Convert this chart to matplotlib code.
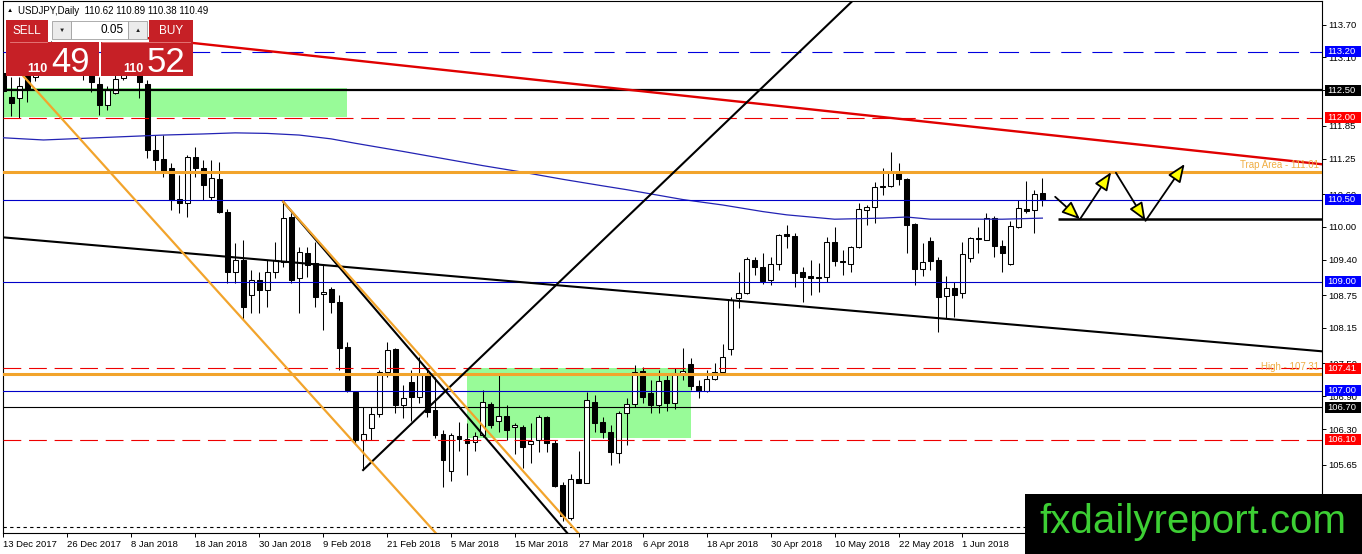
import numpy as np
import matplotlib.pyplot as plt
from matplotlib.patches import Rectangle, FancyArrowPatch

plt.rcParams['font.family'] = ['Liberation Sans', 'DejaVu Sans']

# daily candles USDJPY, 13 Dec 2017 ... (bar index = position)
opens = [112.82, 112.38, 112.36, 112.78, 112.75, 112.95, 113.20, 113.15, 113.30, 113.20,
         113.05, 112.80, 112.62, 112.23, 112.45, 112.72, 113.00, 113.10, 112.62, 111.41,
         111.24, 111.08, 110.51, 110.44, 111.28, 111.08, 110.55, 110.88, 110.27, 109.17,
         109.39, 108.75, 109.02, 108.84, 109.18, 109.36, 110.18, 109.07, 109.52, 109.34,
         108.77, 108.86, 108.63, 107.80, 106.98, 106.10, 106.32, 106.58, 107.34, 107.76,
         106.74, 107.16, 106.89, 107.29, 106.65, 106.21, 105.53, 106.17, 106.12, 106.06,
         106.19, 106.76, 106.45, 106.54, 106.34, 106.34, 106.03, 106.10, 106.52, 106.04,
         105.28, 104.68, 105.39, 105.31, 106.80, 106.43, 106.25, 105.86, 106.59, 106.76,
         107.36, 106.96, 106.74, 107.20, 106.78, 107.31, 107.49, 107.09, 107.00, 107.22,
         107.34, 107.76, 108.70, 108.79, 109.39, 109.27, 109.03, 109.32, 109.87, 109.83,
         109.17, 109.10, 109.08, 109.08, 109.72, 109.37, 109.32, 109.63, 110.31, 110.36,
         110.75, 110.75, 110.99, 110.88, 110.05, 109.23, 109.74, 109.39, 108.74, 108.88,
         108.79, 109.43, 109.80, 109.76, 110.16, 109.65, 109.32, 109.99, 110.33, 110.31,
         110.62]
highs = [113.05, 112.75, 112.75, 112.92, 113.05, 113.30, 113.40, 113.35, 113.38, 113.35,
         113.15, 112.90, 112.75, 112.58, 112.85, 113.05, 113.25, 113.20, 112.69, 111.68,
         111.68, 111.17, 110.95, 111.32, 111.46, 111.22, 111.22, 111.19, 110.33, 109.70,
         109.76, 109.21, 109.17, 109.39, 109.72, 110.46, 110.25, 109.63, 109.63, 109.72,
         109.30, 108.90, 108.75, 107.89, 106.98, 106.70, 106.70, 107.38, 107.89, 107.78,
         107.11, 107.38, 107.62, 107.42, 107.25, 106.28, 106.23, 106.43, 106.41, 106.25,
         107.02, 106.80, 107.29, 106.74, 106.41, 106.37, 106.41, 106.56, 106.54, 106.10,
         105.33, 105.48, 105.90, 106.98, 106.92, 106.52, 106.37, 106.63, 106.87, 107.47,
         107.44, 107.20, 107.38, 107.33, 107.42, 107.78, 107.60, 107.20, 107.38, 107.51,
         107.86, 108.72, 109.17, 109.45, 109.45, 109.52, 109.45, 109.87, 110.03, 109.89,
         109.26, 109.39, 109.34, 109.82, 110.00, 109.58, 109.65, 110.44, 110.40, 110.82,
         111.08, 111.37, 111.17, 110.90, 110.07, 109.70, 109.82, 109.45, 109.10, 108.99,
         109.72, 109.82, 110.00, 110.26, 110.20, 109.76, 110.11, 110.49, 110.84, 110.67,
         110.89]
lows = [112.45, 112.03, 112.00, 112.28, 112.67, 112.90, 113.00, 113.05, 113.10, 112.95,
        112.69, 112.47, 112.05, 112.14, 112.44, 112.68, 112.90, 112.36, 111.26, 111.04,
        110.91, 110.31, 110.26, 110.18, 110.91, 110.49, 110.49, 110.26, 108.97, 108.97,
        108.30, 108.43, 108.43, 108.53, 109.06, 109.26, 108.97, 108.43, 109.08, 108.53,
        108.11, 108.43, 107.38, 106.98, 106.05, 105.55, 106.10, 106.52, 107.25, 106.60,
        106.50, 106.45, 106.78, 106.52, 106.14, 105.24, 105.35, 105.90, 105.46, 105.90,
        106.15, 106.32, 106.25, 106.10, 105.84, 105.59, 105.68, 105.88, 105.88, 105.24,
        104.62, 104.64, 105.31, 105.31, 106.25, 106.14, 105.64, 105.68, 106.00, 106.70,
        106.78, 106.60, 106.60, 106.63, 106.67, 107.20, 107.02, 106.87, 106.98, 107.20,
        107.34, 107.65, 108.52, 108.77, 109.12, 108.95, 108.94, 109.21, 109.61, 108.90,
        108.63, 108.75, 108.81, 108.99, 109.28, 109.12, 109.17, 109.61, 110.04, 110.07,
        110.58, 110.73, 110.77, 109.52, 108.94, 109.10, 109.21, 108.08, 108.34, 108.35,
        108.70, 109.36, 109.52, 109.76, 109.45, 109.17, 109.30, 109.98, 110.26, 109.89,
        110.38]
closes = [112.48, 112.27, 112.58, 112.52, 112.95, 113.20, 113.15, 113.30, 113.20, 113.05,
          112.80, 112.65, 112.23, 112.50, 112.71, 113.00, 113.10, 112.65, 111.41, 111.22,
          111.02, 110.49, 110.44, 111.28, 111.08, 110.77, 110.89, 110.27, 109.17, 109.39,
          108.53, 109.02, 108.84, 109.17, 109.39, 110.16, 109.03, 109.54, 109.30, 108.72,
          108.80, 108.63, 107.79, 107.02, 106.10, 106.21, 106.58, 107.34, 107.75, 106.74,
          106.87, 106.89, 107.29, 106.61, 106.19, 105.73, 106.19, 106.12, 106.05, 106.17,
          106.80, 106.38, 106.54, 106.28, 106.38, 105.97, 106.08, 106.52, 106.04, 105.26,
          104.70, 105.39, 105.32, 106.83, 106.41, 106.25, 105.88, 106.59, 106.76, 107.34,
          106.89, 106.74, 107.18, 106.78, 107.33, 107.36, 107.09, 107.00, 107.22, 107.35,
          107.62, 108.66, 108.79, 109.41, 109.27, 109.01, 109.32, 109.85, 109.83, 109.15,
          109.08, 109.06, 109.06, 109.72, 109.37, 109.35, 109.63, 110.33, 110.36, 110.73,
          110.73, 111.00, 110.88, 110.03, 109.23, 109.36, 109.37, 108.72, 108.88, 108.76,
          109.50, 109.80, 109.77, 110.16, 109.65, 109.52, 110.02, 110.35, 110.29, 110.60,
          110.49]

# moving average
ma_bars = [0, 5, 10, 15, 20, 25, 29, 33, 37, 41, 44, 50, 55, 60, 65, 70, 75, 78, 85,
           90, 95, 98, 101, 104, 110, 113, 116, 120, 125, 130]
ma_vals = [111.63, 111.59, 111.62, 111.65, 111.68, 111.70, 111.72, 111.71, 111.68, 111.61,
           111.53, 111.38, 111.25, 111.12, 111.00, 110.87, 110.75, 110.68, 110.50,
           110.40, 110.28, 110.22, 110.18, 110.14, 110.16, 110.18, 110.14, 110.14, 110.14,
           110.16]

xtick_bars = [0, 8, 16, 24, 32, 40, 48, 56, 64, 72, 80, 88, 96, 104, 112, 120]
xtick_labels = ['13 Dec 2017', '26 Dec 2017', '8 Jan 2018', '18 Jan 2018', '30 Jan 2018',
                '9 Feb 2018', '21 Feb 2018', '5 Mar 2018', '15 Mar 2018', '27 Mar 2018',
                '6 Apr 2018', '18 Apr 2018', '30 Apr 2018', '10 May 2018', '22 May 2018',
                '1 Jun 2018']
ytick_vals = [113.70, 113.10, 112.50, 111.85, 111.25, 110.60, 110.00, 109.40, 108.75,
              108.15, 107.50, 106.90, 106.30, 105.65, 105.05]

# horizontal levels
blue_dashed = [113.20]
blue_solid = [110.50, 109.00, 107.00]
red_dashed = [112.00, 107.41, 106.10]
black_thick = [112.50]
black_thin = [106.70]
orange_levels = [111.01, 107.31]
orange_texts = ['Trap Area - 111.01', 'High - 107.31']
dotted_level = 104.51
support_level = 110.14
support_start = 131.9

# green zones: bar from, bar to, price low, price high
zones_x0 = [-0.5, 58.0]
zones_x1 = [43.0, 86.0]
zones_lo = [112.01, 106.14]
zones_hi = [112.54, 107.42]

# trend lines (bar, price) -> (bar, price)
red_line = [(17, 113.47), (166, 111.13)]
black_lines = [[(-1, 109.82), (166, 107.71)],
               [(45, 105.55), (107, 114.24)],
               [(35, 110.46), (71, 104.32)]]
orange_lines = [[(35, 110.46), (73, 104.22)],
                [(1, 113.00), (55, 104.25)]]

# forecast arrows
arrows = [[(131.6, 110.55), (134.7, 110.14)],
          [(134.7, 110.14), (138.6, 111.00)],
          [(139.2, 110.99), (142.9, 110.11)],
          [(142.9, 110.11), (147.8, 111.15)]]

W, H = 1362, 554
fig = plt.figure(figsize=(W / 100, H / 100), dpi=100)
ax = fig.add_axes([3 / W, 21 / H, 1319 / W, 532 / H])
ax.set_xlim(-0.06, 164.99)
ax.set_ylim(104.398, 114.133)

for x0, x1, lo, hi in zip(zones_x0, zones_x1, zones_lo, zones_hi):
    ax.add_patch(Rectangle((x0, lo), x1 - x0, hi - lo, fc='#98FB98', ec='none', zorder=1))

o = np.array(opens); h = np.array(highs); l = np.array(lows); c = np.array(closes)
x = np.arange(len(o))
ax.vlines(x, l, h, color='black', lw=0.75, zorder=3)
body = np.maximum(np.abs(c - o), 0.012)
ax.bar(x, body, width=0.62, bottom=np.minimum(o, c), color=np.where(c >= o, 'white', 'black'),
       edgecolor='black', linewidth=0.75, zorder=4)

ax.plot(ma_bars, ma_vals, color='#2323B4', lw=0.9, zorder=5)

for p in blue_dashed:
    ax.axhline(p, color='#0000E0', lw=0.8, ls=(0, (18, 10)), zorder=5)
for p in blue_solid:
    ax.axhline(p, color='#0000C8', lw=0.8, zorder=5)
for p in red_dashed:
    ax.axhline(p, color='#EE0000', lw=0.8, ls=(0, (16, 7)), zorder=5)
for p in black_thick:
    ax.axhline(p, color='black', lw=1.6, zorder=5)
for p in black_thin:
    ax.axhline(p, color='black', lw=0.8, zorder=5)
ax.axhline(dotted_level, color='black', lw=0.8, ls=(0, (3, 3)), zorder=5)
ax.hlines(support_level, support_start, 170, color='black', lw=1.8, zorder=6)
for p, t in zip(orange_levels, orange_texts):
    ax.axhline(p, color='#F2A42C', lw=2.2, zorder=5)
    ax.annotate(t, xy=(1, p), xycoords=('axes fraction', 'data'), xytext=(-2, 1.5),
                textcoords='offset points', ha='right', va='bottom', fontsize=7,
                color='#F0AE45', zorder=7)

(a, b) = red_line
ax.plot([a[0], b[0]], [a[1], b[1]], color='#E00000', lw=1.7, zorder=6)
for (a, b) in black_lines:
    ax.plot([a[0], b[0]], [a[1], b[1]], color='black', lw=1.5, zorder=6)
for (a, b) in orange_lines:
    ax.plot([a[0], b[0]], [a[1], b[1]], color='#F2A42C', lw=1.6, zorder=6)

for (a, b) in arrows:
    ax.add_patch(FancyArrowPatch(a, b, arrowstyle='-|>,head_length=1.1,head_width=0.45',
                                 mutation_scale=10, fc='#FFFF00', ec='black', lw=1.3,
                                 shrinkA=0, shrinkB=0, zorder=8))

ax.yaxis.tick_right()
ax.set_yticks(ytick_vals)
ax.set_yticklabels([f'{v:.2f}' for v in ytick_vals])
ax.tick_params(axis='y', direction='out', length=3, width=0.7, pad=1.5, labelsize=6.8)
ax.set_xticks(xtick_bars)
ax.set_xticklabels(xtick_labels, ha='left')
ax.tick_params(axis='x', direction='out', length=3, width=0.7, pad=2, labelsize=6.8)
for s in ax.spines.values():
    s.set_color('black')
    s.set_linewidth(0.8)

# price boxes on the right scale
box_prices = blue_dashed + black_thick + red_dashed[:1] + blue_solid[:2] + red_dashed[1:2] \
    + blue_solid[2:] + black_thin + red_dashed[2:]
box_colors = ['#0000FF', 'black', '#FF0000', '#0000FF', '#0000FF', '#FF0000',
              '#0000FF', 'black', '#FF0000']
tr = ax.get_yaxis_transform()
half = 5.5 / 54.65
for p, col in zip(box_prices, box_colors):
    ax.add_patch(Rectangle((1 + 3 / 1319, p - half), 36 / 1319, 2 * half, transform=tr,
                           fc=col, ec='none', clip_on=False, zorder=20))
    ax.text(1 + 5 / 1319, p, f'{p:.2f}', transform=tr, ha='left', va='center',
            color='white', fontsize=6.8, clip_on=False, zorder=21)

# overlay: trade panel, header and watermark
ov = fig.add_axes([0, 0, 1, 1], zorder=10)
ov.set_xlim(0, W)
ov.set_ylim(H, 0)
ov.axis('off')
ov.patch.set_alpha(0)

red = '#C62026'
ov.text(7, 10.5, '▲', fontsize=4.5, va='center', ha='left')
ov.text(18, 10.5, 'USDJPY,Daily  110.62 110.89 110.38 110.49', fontsize=7,
        va='center', ha='left')
ov.add_patch(Rectangle((6, 20), 42, 22, fc=red, ec='none'))
ov.add_patch(Rectangle((149, 20), 44, 22, fc=red, ec='none'))
ov.add_patch(Rectangle((6, 42), 93, 34, fc=red, ec='none'))
ov.add_patch(Rectangle((101, 42), 92, 34, fc=red, ec='none'))
ov.plot([10, 47], [42, 42], color='#E88080', lw=0.6)
ov.plot([102, 190], [42, 42], color='#E88080', lw=0.6)
ov.add_patch(Rectangle((52, 21), 19, 18, fc='#EBEBEB', ec='#A0A0A0', lw=0.6))
ov.add_patch(Rectangle((71, 21), 57, 18, fc='white', ec='#A0A0A0', lw=0.6))
ov.add_patch(Rectangle((128, 21), 19, 18, fc='#EBEBEB', ec='#A0A0A0', lw=0.6))
ov.text(61.5, 30, '▼', fontsize=4.5, ha='center', va='center', color='#222222')
ov.text(137.5, 30, '▲', fontsize=4.5, ha='center', va='center', color='#222222')
ov.text(124, 30, '0.05', fontsize=8.5, ha='right', va='center', color='black')
ov.text(27, 31, 'SELL', fontsize=8.5, ha='center', va='center', color='white')
ov.text(171, 31, 'BUY', fontsize=8.5, ha='center', va='center', color='white')
ov.text(48, 72, '110', fontsize=9, fontweight='bold', ha='right', va='baseline', color='white')
ov.text(51, 72, '49', fontsize=25, ha='left', va='baseline', color='white')
ov.text(143, 72, '110', fontsize=9, fontweight='bold', ha='right', va='baseline', color='white')
ov.text(147, 72, '52', fontsize=25, ha='left', va='baseline', color='white')

ov.add_patch(Rectangle((1025, 494), 337, 60, fc='black', ec='none'))
ov.text(1193, 533, 'fxdailyreport.com', fontsize=29, ha='center', va='baseline',
        color='#3DCF34')

fig.savefig('out.png', dpi=100)
